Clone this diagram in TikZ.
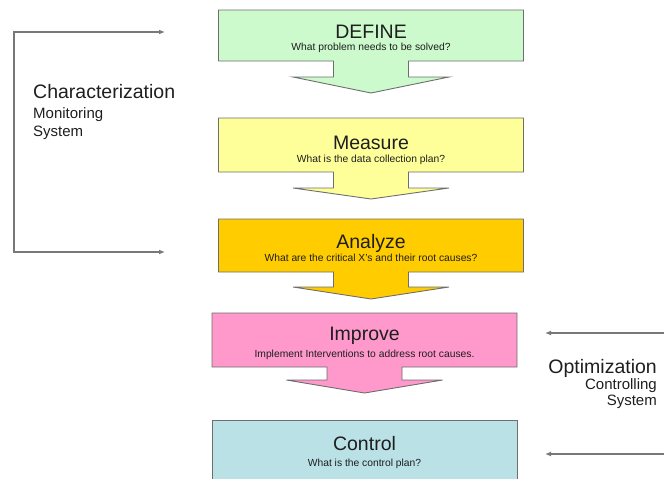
\documentclass[tikz,border=0pt]{standalone}
\usepackage{fontspec}
\setmainfont{Liberation Sans}
\usetikzlibrary{arrows.meta}
\definecolor{definegreen}{RGB}{204,250,204}
\definecolor{measureyellow}{RGB}{255,255,153}
\definecolor{analyzegold}{RGB}{255,204,0}
\definecolor{improvepink}{RGB}{255,153,204}
\definecolor{controlblue}{RGB}{185,225,230}
\definecolor{edgegray}{RGB}{110,110,110}
\definecolor{guidegray}{RGB}{120,120,120}
\definecolor{inkgray}{RGB}{30,30,30}
% box with the down arrow below it: cx, top, bottom, stem bottom, tip, colour
\newcommand{\stagearrow}[6]{%
  \filldraw[stageline, fill=#6] (#1-152.5,#2) -- (#1+152.5,#2) -- (#1+152.5,#3)
    -- (#1+37.5,#3) -- (#1+37.5,#4) -- (#1+78,#4) -- (#1,#5) -- (#1-78,#4)
    -- (#1-37.5,#4) -- (#1-37.5,#3) -- (#1-152.5,#3) -- cycle;}
\begin{document}
\begin{tikzpicture}[x=1pt,y=-1pt,
    stageline/.style={draw=edgegray,line width=0.9pt},
    stagetitle/.style={inner sep=0pt,anchor=base,text=inkgray,font=\fontsize{19.5}{20}\selectfont},
    stagequestion/.style={inner sep=0pt,anchor=base,text=inkgray,font=\fontsize{10.3}{11}\selectfont},
    sidebig/.style={inner sep=0pt,text=inkgray,font=\fontsize{19.5}{20}\selectfont},
    sidesmall/.style={inner sep=0pt,text=inkgray,font=\fontsize{15}{16}\selectfont},
    guide/.style={draw=guidegray,line width=1.3pt,line cap=rect},
    guidetip/.style={-{Latex[length=6pt,width=5pt]}}]
\useasboundingbox (0,0) rectangle (664,479);
\clip (0,0) rectangle (664,479);

\def\CTRLCOLOR{controlblue}
	\stagearrow{371}{10}{61}{77}{93}{definegreen}
	\stagearrow{371}{118}{172}{188}{199}{measureyellow}
	\stagearrow{371}{219}{272}{287}{299}{analyzegold}
	\stagearrow{364.5}{313}{367}{380}{393}{improvepink}
	\filldraw[stageline, fill=\CTRLCOLOR] (212,420) rectangle (517,490);

	\node[stagetitle] (define) at (371,38) {DEFINE};
	\node[stagequestion] (defineq) at (371,50) {What problem needs to be solved?};
	\node[stagetitle] (measure) at (371,149) {Measure};
	\node[stagequestion] (measureq) at (371,162) {What is the data collection plan?};
	\node[stagetitle] (analyze) at (371,248.5) {Analyze};
	\node[stagequestion] (analyzeq) at (371,261.5) {What are the critical X's and their root causes?};
	\node[stagetitle] (improve) at (364.5,340) {Improve};
	\node[stagequestion] (improveq) at (364.5,357.5) {Implement Interventions to address root causes.};
	\node[stagetitle] (control) at (364.5,450) {Control};
	\node[stagequestion] (controlq) at (364.5,466) {What is the control plan?};

	\node[sidebig,anchor=base west] (charact) at (33,98) {Characterization};
	\node[sidesmall,anchor=base west] (monitor) at (33,118) {Monitoring};
	\node[sidesmall,anchor=base west] (monsys) at (33,136) {System};
	\node[sidebig,anchor=base east] (optim) at (657,373) {Optimization};
	\node[sidesmall,anchor=base east] (controlling) at (657,389.5) {Controlling};
	\node[sidesmall,anchor=base east] (consys) at (657,405) {System};

	\coordinate (chartop) at (165,32);
	\coordinate (charcorner) at (14,32);
	\coordinate (charbot) at (165,252);
	\draw[guide,{Latex[length=6pt,width=5pt]}-{Latex[length=6pt,width=5pt]}] (chartop) -- (charcorner) |- (charbot);

	\coordinate (optimin) at (666,333);
	\coordinate (optimend) at (545,333);
	\coordinate (controlin) at (666,454);
	\coordinate (controlend) at (545,454);
	\draw[guide,guidetip] (optimin) -- (optimend);
	\draw[guide,guidetip] (controlin) -- (controlend);

\end{tikzpicture}
\end{document}
